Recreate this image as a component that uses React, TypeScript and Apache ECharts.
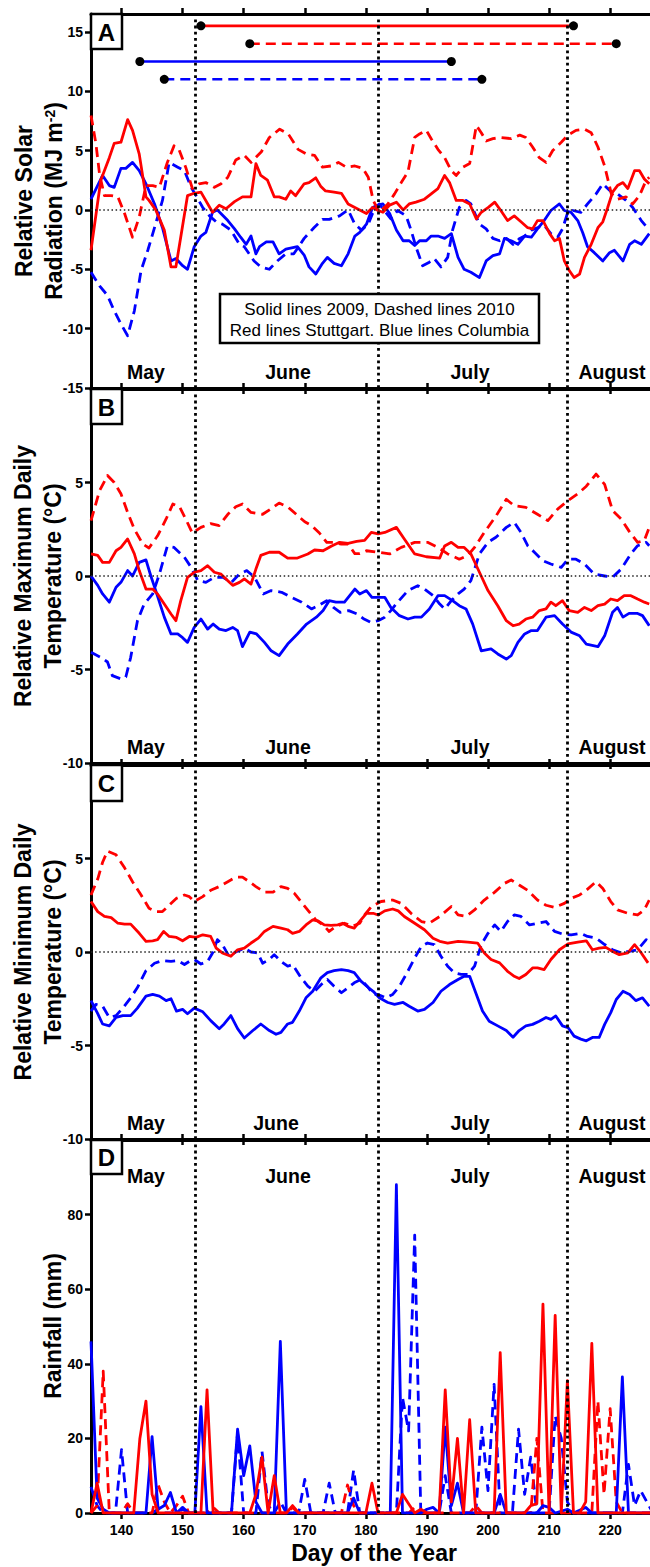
import React, { useEffect, useRef } from "react";
import * as echarts from "echarts";

// ---------- data ----------
const xTicks = [140, 150, 160, 170, 180, 190, 200, 210, 220];
const monthStarts = [152, 182, 213];
const months = ["May", "June", "July", "August"];

const solarTicks = [-15, -10, -5, 0, 5, 10, 15];
const tempTicks = [-10, -5, 0, 5];
const rainTicks = [0, 20, 40, 60, 80];

// Growing periods shown at the top of panel A: [day, y]
const periodRed2009 = [[153, 15.5], [214, 15.5]];
const periodRed2010 = [[161, 14], [221, 14]];
const periodBlue2009 = [[143, 12.5], [194, 12.5]];
const periodBlue2010 = [[147, 11], [199, 11]];

// Panel A: relative solar radiation
const solarRed2009 = [[135,-3.4],[136.6,2.5],[138,4.4],[138.8,5.6],[139.9,5.7],[141,7.6],[141.8,6.7],[142.9,4.7],[144,1.1],[144.5,0.8],[145.6,0],[147,-1.7],[148.1,-4.8],[148.9,-4.8],[150.8,1.2],[151.9,1.4],[153,1.5],[154.9,-0.2],[156,0.4],[157.1,0.1],[158.5,0.7],[159.8,1.1],[161.2,1.1],[162,3.9],[162.8,2.9],[163.9,2.5],[165,1.1],[165.8,1.1],[166.9,0.9],[167.7,1.6],[168.5,1.2],[169.9,2.2],[170.7,2.3],[171.8,2.7],[172.6,2.0],[173.4,1.6],[174.8,1.5],[176,1.4],[177.1,0.5],[178.2,0.2],[180.1,-0.3],[181.1,0.2],[182,-0.05],[182.8,-0.2],[183.9,0.4],[185,0.65],[186.1,0],[187.1,0.5],[188.2,0.65],[189.6,0.9],[190.7,1.35],[191.8,1.8],[192.9,2.9],[193.7,2.3],[194.8,0.8],[195.9,0.8],[197,0.5],[198.1,-0.75],[198.9,-0.2],[200,0.2],[201.1,0.65],[202.1,-0.05],[203.2,-0.9],[204.3,-0.5],[205.4,-1.0],[206.5,-1.5],[207.3,-1.6],[208.1,-0.9],[209,-0.9],[210.1,-2.0],[210.9,-2.6],[211.7,-2.4],[212.5,-4.3],[213.3,-5.1],[214.1,-5.7],[215,-5.4],[215.8,-4.0],[216.9,-2.9],[218,-1.5],[218.8,-1.0],[219.6,0.2],[220.4,1.5],[221.2,2.05],[222.1,2.3],[222.9,1.8],[224,3.3],[224.8,3.3],[225.6,2.6],[226.4,2.2]];
const solarBlue2009 = [[135,0.9],[136.9,2.9],[138,2.05],[138.8,1.9],[139.9,3.5],[140.7,3.5],[141.8,4.0],[142.9,3.3],[144,2.2],[145.4,0.5],[146.7,-1.5],[148.1,-4.3],[148.9,-4.1],[150,-4.7],[150.8,-5.0],[151.9,-3.1],[153,-2.2],[153.8,-1.9],[154.9,-0.2],[155.7,0],[157.4,-0.9],[158.5,-1.6],[159.5,-2.3],[160.4,-2.9],[161.2,-2.2],[162,-3.7],[162.6,-3.1],[163.7,-2.7],[164.8,-2.7],[165.8,-3.7],[166.9,-3.3],[168.8,-3.1],[169.9,-3.8],[170.7,-4.8],[171.8,-5.4],[172.9,-4.5],[173.7,-4.0],[174.8,-4.5],[176,-4.7],[177.1,-3.7],[178.2,-2.2],[179,-1.9],[180.1,-1.2],[181.1,0.2],[182,0.4],[182.8,0.5],[183.9,-0.3],[185,-1.7],[186.1,-2.6],[187.1,-2.6],[188,-3.0],[188.8,-2.6],[189.9,-2.6],[190.7,-2.2],[191.8,-2.2],[192.9,-2.4],[194,-2.0],[195.1,-4.0],[196.1,-5.0],[197.2,-5.25],[198.6,-5.7],[199.7,-4.3],[200.8,-3.85],[201.9,-3.7],[202.7,-2.4],[203.8,-2.6],[204.9,-2.9],[206,-2.2],[207.1,-2.3],[208.1,-1.6],[209.2,-0.9],[210.3,-0.05],[211.7,0.5],[212.5,-0.05],[213.6,-0.2],[214.7,-0.9],[215.5,-1.9],[216.3,-3.1],[217.4,-3.6],[218.8,-4.3],[219.9,-3.6],[220.7,-3.4],[222.1,-4.3],[223.2,-2.9],[224,-2.6],[225.1,-2.9],[226.4,-2.0]];
const solarBlue2010 = [[135,-5.25],[136.4,-6.4],[137.7,-7.2],[138.8,-8.5],[139.9,-9.6],[141,-10.6],[142.1,-8.5],[143.2,-5.1],[144.3,-3.4],[145.4,-1.5],[146.7,0.8],[147.8,4.0],[149.2,3.6],[150.3,3.3],[151.4,1.9],[152.2,1.2],[153.3,0.2],[154.4,-0.5],[155.5,-1.0],[156.5,-1.2],[157.9,-1.7],[159.3,-2.9],[160.1,-3.1],[161.7,-4.3],[162.8,-4.8],[164.2,-5.0],[165.5,-4.3],[166.9,-3.7],[168.2,-3.7],[169.9,-2.4],[171.5,-1.5],[172.9,-0.8],[174,-0.8],[175.7,-0.5],[177.1,0],[178.2,-1.2],[179.3,-1.7],[180.4,-1.2],[181.1,-0.3],[182.2,0.5],[183,-0.05],[184.1,-0.75],[185.2,-0.05],[186.6,-0.5],[187.4,-1.7],[188.2,-3.1],[189.3,-4.7],[190.4,-4.4],[191.2,-4.1],[192.3,-4.8],[193.4,-4.0],[194.2,-1.7],[195.3,0.2],[196.4,0.8],[197.2,0.5],[198.6,-1.2],[199.7,-1.6],[200.8,-2.4],[201.9,-2.6],[203,-2.4],[204.1,-2.9],[205.2,-2.4],[206,-2.2],[207.1,-1.7],[208.1,-1.5],[209.2,-1.3],[210.3,-2.0],[211.4,-2.3],[212.2,-1.6],[213,-0.3],[213.9,-0.05],[215.2,-0.2],[216.3,0.5],[217.7,1.35],[218.8,2.2],[220.2,1.5],[221.2,1.35],[222.6,0.8],[223.7,0.2],[225.1,-0.9],[226.4,-1.7]];
const solarRed2010 = [[135,7.95],[135.8,5.6],[136.4,3.0],[137.2,1.2],[138.3,1.2],[139.4,1.1],[140.5,-0.3],[141.8,-2.3],[142.9,-0.6],[144,2.05],[145.1,2.05],[146.2,1.9],[147.5,4.0],[148.6,5.4],[149.4,5.1],[150.5,3.6],[151.6,1.8],[152.7,2.2],[153.8,2.3],[155.2,1.9],[156.3,2.2],[157.4,2.75],[158.7,4.2],[160.1,4.6],[161.2,4.0],[162.9,4.9],[164.2,6.1],[165.9,6.8],[167.3,6.4],[168.9,5.1],[170.3,4.7],[171.6,4.6],[172.9,3.6],[174.3,3.7],[175.5,4.0],[176.8,3.6],[178.2,3.7],[179.5,3.5],[180.4,2.75],[181.2,0.8],[182.2,-0.2],[183.6,0.5],[184.7,1.35],[185.8,2.3],[186.9,3.2],[188,6.1],[188.8,6.4],[189.9,6.7],[190.7,6.0],[191.8,5.1],[192.9,4.4],[194,3.3],[194.8,2.9],[195.9,3.6],[197,3.9],[198.1,7.1],[198.9,6.5],[199.7,5.8],[200.8,6.0],[202.1,6.1],[203.8,6.0],[205.2,6.3],[206.2,6.1],[207.3,5.3],[208.4,4.4],[209.5,4.0],[210.6,5.0],[212,5.7],[213.1,6.3],[214.4,6.7],[215.8,6.8],[216.9,6.5],[218,5.3],[219.1,3.7],[220.2,1.35],[221.2,0.9],[222.6,1.1],[223.7,0.5],[224.8,1.2],[225.9,2.5],[226.4,2.75]];

// Panel B: relative maximum daily temperature
const tmaxRed2010 = [[135,2.96],[136.4,4.56],[137.7,5.37],[138.8,5.0],[139.9,4.4],[141,3.4],[142.1,2.5],[143.5,1.7],[144.5,1.5],[145.9,2.15],[147.3,3.05],[148.4,3.85],[149.5,3.7],[150.5,3.05],[151.6,2.3],[153,2.6],[154.6,2.8],[156,2.7],[157.4,3.3],[158.7,3.7],[159.8,3.85],[161.2,3.4],[163.1,3.3],[164.5,3.6],[165.8,3.9],[167.2,3.7],[168.6,3.3],[170,2.9],[171.1,2.7],[172.4,2.3],[173.6,1.8],[174.8,1.8],[176,1.7],[177.1,1.7],[178.2,1.2],[179,1.2],[180.1,1.35],[182,1.27],[183.9,1.18],[185.8,1.53],[188,1.8],[190.1,1.8],[191.8,1.53],[193.4,1.18],[195.3,0.9],[196.7,1.1],[197.8,1.53],[199.4,2.33],[201.3,3.2],[203,4.1],[204.3,3.76],[206.2,3.67],[208.1,3.3],[209.8,2.96],[211.4,3.58],[213.1,4.03],[214.7,4.4],[216.1,4.8],[217.7,5.45],[219.1,4.9],[220.4,3.5],[221.8,3.05],[223.1,2.4],[224.5,1.8],[225.6,1.9],[226.4,2.6]];
const tmaxRed2009 = [[135,1.18],[136.1,1.1],[136.9,0.73],[138,0.73],[139.1,1.35],[139.9,1.53],[141,1.98],[142.1,1.18],[142.9,0.29],[144,-0.7],[145.1,-0.7],[145.9,-0.96],[147,-1.5],[148.1,-2.03],[148.9,-2.39],[149.7,-1.32],[150.8,-0.07],[151.9,0.2],[153,0.29],[154.1,0.55],[155.2,0.2],[156.3,0.1],[157.4,-0.25],[158.2,-0.5],[159.3,-0.34],[160.1,-0.16],[161.2,-0.43],[162,0.37],[162.8,1.1],[164.2,1.27],[165.8,1.27],[167.2,0.96],[168.8,0.96],[170.5,1.18],[171.6,1.39],[173,1.35],[174.4,1.6],[175.7,1.8],[177.1,1.75],[178.5,1.85],[179.8,1.9],[180.9,2.33],[182,2.25],[183.1,2.33],[185,2.6],[186.3,1.98],[188,1.18],[189.9,1.03],[192.1,0.96],[192.9,1.6],[194,1.8],[195.1,1.53],[196.1,1.53],[197.2,1.18],[198.6,0.2],[200,-0.78],[201.6,-1.59],[203,-2.39],[204.1,-2.66],[205.1,-2.57],[206.2,-2.3],[207.3,-2.2],[208.4,-1.85],[209.5,-1.76],[210.3,-1.4],[211.1,-1.59],[212.2,-1.32],[213.3,-1.85],[214.7,-1.94],[215.8,-1.68],[216.9,-1.85],[218,-1.59],[219.1,-1.5],[220.1,-1.23],[221.2,-1.32],[222.3,-1.05],[223.4,-1.05],[224.5,-1.23],[225.6,-1.4],[226.4,-1.5]];
const tmaxBlue2009 = [[135,0],[136.1,-0.5],[136.9,-0.96],[138,-1.4],[139.1,-0.6],[139.9,-0.34],[141,0.29],[141.8,0],[142.9,0.73],[144,0.86],[144.8,0],[145.6,-0.78],[147,-2.2],[148.1,-3.1],[149.2,-3.1],[150,-3.3],[150.8,-3.55],[151.9,-2.75],[153,-2.3],[154.1,-2.84],[155,-2.57],[156,-2.84],[157.1,-2.92],[158.2,-2.75],[159,-2.92],[159.8,-3.78],[161,-3.0],[162.1,-3.1],[163.4,-3.55],[164.5,-4.0],[165.8,-4.26],[167.2,-3.64],[168.8,-3.1],[170.3,-2.57],[171.9,-2.2],[173,-1.85],[174,-1.32],[175.1,-1.4],[176.5,-1.4],[178.2,-0.7],[179,-0.96],[180.1,-0.78],[181,-1.14],[182,-1.14],[183.1,-1.14],[184.1,-1.68],[185.5,-2.12],[186.9,-2.3],[188,-2.2],[189.1,-2.2],[190.4,-1.76],[191.8,-1.05],[192.9,-1.05],[194.2,-1.32],[195.3,-1.59],[196.4,-1.76],[197.5,-2.57],[198.9,-4.0],[200.5,-3.9],[201.6,-4.17],[203,-4.44],[203.8,-4.26],[204.9,-3.55],[206,-3.1],[207.1,-2.92],[208.1,-2.92],[209.5,-2.2],[210.9,-2.12],[212.2,-2.57],[213.6,-3.0],[215,-3.2],[216.1,-3.64],[218,-3.78],[219.1,-3.2],[220.4,-1.94],[221.2,-1.68],[222.1,-2.2],[223.1,-2.0],[224.5,-2.0],[225.3,-2.12],[226.4,-2.66]];
const tmaxBlue2010 = [[135,-4.08],[136.6,-4.35],[137.7,-4.6],[138.5,-5.33],[139.9,-5.5],[140.7,-5.4],[141.5,-4.35],[142.6,-2.4],[143.7,-1.5],[145.1,-0.96],[146.2,0.1],[147.5,1.6],[148.6,1.53],[150.3,1.0],[151.4,0.46],[152.5,-0.25],[153.8,-0.34],[155.2,-0.07],[156.6,-0.07],[158,-0.34],[159.3,0.1],[160.5,0.29],[161.8,-0.07],[163.2,-0.96],[164.5,-0.78],[166.2,-0.87],[167.8,-1.14],[169.5,-1.4],[171.1,-1.76],[172.2,-1.59],[173.6,-1.32],[174.7,-1.68],[175.8,-1.94],[177.2,-1.85],[178.6,-2.03],[179.7,-2.3],[180.8,-2.48],[182,-2.39],[183.1,-2.2],[184.1,-1.85],[185.2,-1.4],[186.9,-0.78],[188.5,-0.52],[189.6,-0.7],[191,-1.05],[192.1,-1.5],[192.9,-1.76],[194,-1.32],[195.1,-0.96],[196.1,-0.7],[197.2,-0.25],[198.6,1.18],[200,1.8],[201.3,2.07],[203,2.6],[204.3,2.87],[205.4,2.33],[206.5,1.62],[207.6,1.27],[209,0.82],[210.3,0.64],[212,0.46],[213.1,0.9],[214.4,0.9],[215.8,0.64],[217.4,0.1],[219.1,0],[220.4,-0.07],[221.8,0.37],[223.4,1.18],[224.5,1.62],[225.9,1.8],[226.4,1.62]];

// Panel C: relative minimum daily temperature
const tminRed2010 = [[135,3.05],[136.1,3.9],[136.9,4.8],[137.7,5.4],[139.1,5.2],[140.5,4.5],[141.8,3.76],[143.2,3.05],[144.5,2.34],[145.6,2.16],[146.7,2.16],[147.8,2.5],[149,2.87],[150.3,3.05],[151.1,2.96],[151.9,2.7],[153.3,2.96],[154.6,3.3],[156,3.5],[157.4,3.76],[158.7,4.0],[159.8,4.0],[160.9,3.76],[162,3.5],[163.4,3.2],[164.8,3.2],[166.1,3.5],[167.2,3.4],[168.3,3.14],[169.6,2.6],[170.7,2.16],[171.8,1.72],[173,1.45],[174,1.1],[175.1,1.37],[176.5,1.54],[177.8,1.37],[179,1.54],[179.8,1.98],[180.9,2.43],[182.5,2.7],[184.4,2.78],[185.8,2.6],[187.4,2.07],[189.1,1.63],[190.4,1.54],[192.1,1.9],[194,2.43],[195.1,1.98],[196.4,1.9],[197.8,2.25],[199.4,2.78],[201.1,3.2],[202.7,3.67],[203.8,3.85],[205.1,3.58],[206.5,3.3],[208.1,2.78],[209.5,2.5],[210.9,2.38],[212.5,2.6],[213.6,2.87],[215,3.05],[216.1,3.3],[217.7,3.76],[218.8,3.4],[220.1,2.7],[221.2,2.25],[222.9,2.07],[224.5,1.98],[225.6,2.25],[226.4,2.78]];
const tminRed2009 = [[135,2.7],[136.1,2.16],[137.2,1.9],[138.3,1.84],[139.4,1.54],[140.5,1.49],[141.5,1.49],[142.9,1.0],[144,0.57],[145.1,0.6],[145.9,0.66],[146.9,1.1],[147.8,0.83],[149,0.78],[150,0.6],[151.1,0.83],[152.2,0.78],[153.3,0.92],[154.6,0.83],[155.5,0.21],[156.5,-0.05],[157.9,-0.23],[159,0.12],[160.1,0.21],[161.2,0.48],[162.4,0.74],[163.4,1.1],[164.8,1.37],[166.1,1.28],[167.2,1.19],[168,1.0],[169.1,1.1],[170.2,1.45],[171.3,1.72],[172.1,1.67],[173.2,1.45],[174.3,1.42],[175.4,1.45],[176.2,1.54],[177.1,1.37],[178.1,1.28],[179.2,1.72],[180.1,2.07],[181.2,2.07],[182,1.98],[183.1,2.2],[184.4,2.3],[185.3,2.2],[186.3,1.9],[188,1.54],[189.6,1.19],[191,0.74],[192.1,0.57],[193.4,0.48],[195.1,0.57],[196.7,0.53],[198.3,0.48],[199.4,-0.05],[200.5,-0.4],[201.9,-0.58],[203.2,-1.03],[204.3,-1.3],[205.1,-1.42],[206.2,-1.2],[207.3,-0.85],[208.1,-0.85],[209.2,-0.94],[210.3,-0.4],[211.7,0.12],[213.1,0.43],[214.7,0.53],[216.1,0.6],[217.1,0.12],[218.2,0.21],[219.3,0.25],[220.4,0.03],[221.5,-0.14],[222.9,-0.05],[224,0.39],[225.1,-0.05],[226.2,-0.58]];
const tminBlue2009 = [[135,-2.6],[136.1,-3.3],[136.9,-3.85],[138,-3.95],[139.1,-3.5],[140.2,-3.4],[141.5,-3.4],[142.6,-3.0],[144,-2.36],[145.1,-2.27],[146.2,-2.36],[147.3,-2.6],[148.1,-2.5],[149,-3.16],[150,-3.07],[150.8,-3.3],[151.9,-3.0],[153.3,-3.2],[154.6,-3.67],[156,-4.1],[156.8,-3.85],[157.9,-3.4],[159,-4.1],[160.1,-4.6],[161.5,-4.2],[162.8,-3.85],[164.2,-4.2],[165.3,-4.4],[166.1,-4.3],[167.2,-3.85],[168,-3.76],[169.1,-3.16],[170.2,-2.45],[171.3,-2.1],[172.6,-1.4],[173.7,-1.1],[174.8,-1.0],[176,-0.94],[177.1,-1.0],[178.1,-1.1],[179.2,-1.56],[180.4,-1.9],[181.2,-2.1],[182.2,-2.45],[183.6,-2.7],[184.7,-2.8],[186.1,-2.7],[187.1,-2.9],[188.5,-3.16],[189.6,-3.07],[191,-2.7],[192.3,-2.1],[193.7,-1.74],[195.1,-1.47],[196.1,-1.3],[197,-1.3],[198.1,-2.27],[199.1,-3.16],[200.2,-3.7],[201.6,-3.95],[203,-4.2],[204.1,-4.56],[205.1,-4.2],[206.2,-3.95],[207.3,-3.87],[208.4,-3.7],[209.5,-3.5],[210.3,-3.6],[211.1,-3.42],[212.2,-3.95],[213.1,-4.04],[214.1,-4.5],[215.2,-4.66],[216.1,-4.75],[217.1,-4.57],[218.2,-4.57],[219.1,-3.87],[220.1,-3.24],[221,-2.54],[222.1,-2.1],[223.2,-2.27],[224.2,-2.6],[225.3,-2.45],[226.4,-2.9]];
const tminBlue2010 = [[135,-3.16],[135.8,-2.8],[136.9,-2.9],[138,-3.5],[139.1,-3.4],[140.2,-3.0],[141.5,-2.45],[142.6,-1.9],[144,-1.0],[145.4,-0.6],[146.7,-0.46],[148.1,-0.5],[149.2,-0.46],[150.3,-0.67],[151.1,-0.5],[151.9,-0.4],[153,-0.64],[154.1,-0.5],[154.9,-0.05],[155.7,0.66],[156.5,0.4],[157.6,-0.23],[158.7,0],[160.1,0.2],[161.2,0],[162.3,-0.05],[163.1,-0.6],[164.2,-0.4],[165,-0.14],[166.1,-0.5],[167.2,-0.76],[168,-0.67],[169.4,-1.38],[170.5,-1.83],[171.6,-2.1],[172.7,-1.74],[173.7,-1.47],[174.8,-1.83],[176,-2.18],[177.1,-1.9],[178.1,-1.65],[179.2,-1.47],[180.4,-1.9],[181.2,-2.27],[182,-2.27],[183.3,-2.45],[184.4,-2.27],[185.5,-1.83],[186.6,-1.2],[188,-0.32],[189.1,0.3],[190.1,0.48],[191.2,0.4],[192.3,-0.23],[193.4,-0.76],[194.5,-1.12],[195.6,-1.2],[196.7,-1.2],[197.8,-0.76],[198.9,0.39],[200,1.0],[201.1,1.45],[202.1,1.1],[203.2,1.63],[204.3,1.98],[205.4,1.9],[206.8,1.45],[208.1,1.54],[209.5,1.63],[210.9,1.1],[212.2,0.96],[213.6,0.92],[215.2,1.0],[216.3,0.83],[217.7,0.74],[219.1,0.4],[220.4,0.12],[221.8,-0.05],[223.1,0.03],[224.5,0.12],[225.9,0.66],[226.4,0.57]];

// Panel D: daily rainfall (mm)
const rainBlue2009 = [[135,46],[136,4],[137,1],[138,0],[144,0],[145,20.5],[146,1],[147,2],[148,5.5],[149,0],[150,1.5],[151,0],[152,0],[153,28.5],[154,0],[158,0],[159,22.5],[160,10],[161,18],[162,3],[163,0],[165,0],[166,46],[167,0],[177,0],[178,4],[179,0],[184,0],[185,88],[186,0],[189,0],[190,1],[191,1.5],[192,0],[193,23],[194,2],[195,8],[196,0],[201,0],[202,5],[203,0],[208,0],[209,2],[210,1.5],[211,0],[213,1],[214,0],[216,1.5],[217,0],[221,0],[222,36.5],[223,0],[227,0]];
const rainRed2009 = [[135,0],[136,8],[137,0],[142,0],[143,20],[144,30],[145,5],[146,0],[153,0],[154,33],[155,0],[161,0],[162,5],[163,15],[164,0],[165,10],[166,0],[167,0],[168,2],[169,0],[180,0],[181,8],[182,0],[185,0],[186,5],[187,2.5],[188,0],[189,1],[190,0],[192,0],[193,33],[194,3],[195,20],[196,0],[197,25],[198,0],[201,0],[202,43],[203,0],[206,0],[207,2],[208,2.5],[209,56],[210,0],[211,53],[212,0],[213,35.5],[214,0],[215,0],[216,3],[217,45.5],[218,0],[227,0]];
const rainRed2010 = [[135,0],[136,2],[137,38],[138,0],[140,0],[141,2.5],[142,0],[145,0],[146,7.5],[147,3],[148,0],[149,2],[150,4.5],[151,0],[154,0],[155,1.5],[156,0],[167,0],[168,1.5],[169,0],[176,0],[177,7.5],[178,2],[179,0],[187,0],[188,1.5],[189,0],[197,0],[198,2],[199,0],[207,0],[208,20],[209,0],[217,0],[218,30],[219,5],[220,28],[221,3],[222,0],[227,0]];
const rainBlue2010 = [[135,7],[136,2],[137,0],[139,0],[140,17],[141,0],[145,0],[146,1],[147,0],[149,0],[150,1],[151,0],[158,0],[159,21.5],[160,0],[162,0],[163,16.5],[164,2],[165,0],[166,3],[167,0],[169,0],[170,9],[171,0],[173,0],[174,8],[175,0],[177,0],[178,11.5],[179,0],[185,0],[186,31],[187,22],[188,74.5],[189,0],[192,0],[193,10],[194,0],[198,0],[199,23],[200,6],[201,34.5],[202,0],[204,0],[205,22.5],[206,5],[207,15],[208,0],[210,0],[211,26],[212,20],[213,3],[214,0],[222,0],[223,13],[224,2],[225,6],[226,3],[227,0]];

// ---------- layout / style ----------
const FONT = "'Liberation Sans', Arial, Helvetica, sans-serif";
const RED = "#ff0000";
const BLUE = "#0000ff";
const DASH = [10, 6];
const LW = 2.8;

const GRID_LEFT = 91;
const GRID_WIDTH = 568;
const panels = [
  { top: 14, height: 374, min: -15, max: 16.5, ticks: solarTicks, letter: "A" },
  { top: 389, height: 374, min: -10, max: 10, ticks: tempTicks, letter: "B" },
  { top: 765, height: 374, min: -10, max: 10, ticks: tempTicks, letter: "C" },
  { top: 1140, height: 373, min: 0, max: 100, ticks: rainTicks, letter: "D" },
];

function line(data: number[][], color: string, dashed: boolean, p: number, extra: any = {}) {
  return {
    type: "line",
    xAxisIndex: p * 2,
    yAxisIndex: p,
    data,
    showSymbol: false,
    symbol: "none",
    silent: true,
    lineStyle: { color, width: LW, type: dashed ? DASH : "solid", join: "round" },
    z: 3,
    ...extra,
  };
}

function markers(p: number) {
  const v = { type: [2.8, 3.4], width: 2.8, color: "#000" };
  const h = { type: [1.5, 2.6], width: 1.5, color: "#222" };
  const d: any[] = monthStarts.map((m) => ({ xAxis: m, lineStyle: v }));
  if (p < 3) d.push({ yAxis: 0, lineStyle: h });
  return {
    markLine: {
      silent: true,
      symbol: ["none", "none"],
      label: { show: false },
      animation: false,
      data: d,
    },
  };
}

function periodSeries(data: number[][], color: string, dashed: boolean) {
  return {
    type: "line",
    xAxisIndex: 0,
    yAxisIndex: 0,
    data,
    showSymbol: true,
    symbol: "circle",
    symbolSize: 9,
    silent: true,
    itemStyle: { color: "#000" },
    lineStyle: { color, width: 2.6, type: dashed ? DASH : "solid" },
    z: 4,
  };
}

function rotText(x: number, y: number, text: string, rich?: any) {
  return {
    type: "text",
    x,
    y,
    rotation: Math.PI / 2,
    z: 100,
    style: {
      text,
      fontFamily: FONT,
      fontWeight: "bold",
      fontSize: 23,
      fill: "#000",
      align: "center",
      verticalAlign: "middle",
      rich,
    },
  };
}

function plainText(x: number, y: number, text: string, size: number, bold = true) {
  return {
    type: "text",
    x,
    y,
    z: 100,
    style: {
      text,
      fontFamily: FONT,
      fontWeight: bold ? "bold" : "normal",
      fontSize: size,
      fill: "#000",
      align: "center",
      verticalAlign: "middle",
    },
  };
}

export default function App() {
  const ref = useRef<HTMLDivElement>(null);

  useEffect(() => {
    if (!ref.current) return;
    const chart = echarts.init(ref.current, undefined, { renderer: "svg" });

    const grid = panels.map((p) => ({
      left: GRID_LEFT,
      top: p.top,
      width: GRID_WIDTH,
      height: p.height,
      containLabel: false,
    }));

    const xAxis: any[] = [];
    panels.forEach((p, i) => {
      const base = {
        type: "value",
        gridIndex: i,
        min: 135,
        max: 228,
        splitLine: { show: false },
        axisLine: { show: true, onZero: false, lineStyle: { color: "#000", width: 3 } },
        axisTick: {
          show: true,
          inside: false,
          length: 6,
          customValues: xTicks,
          lineStyle: { color: "#000", width: 2.5 },
        },
      };
      xAxis.push({
        ...base,
        position: "bottom",
        axisLabel:
          i === 3
            ? {
                show: true,
                customValues: xTicks,
                fontFamily: FONT,
                fontWeight: "bold",
                fontSize: 14,
                color: "#000",
                margin: 10,
              }
            : { show: false },
      });
      xAxis.push({ ...base, position: "top", axisLabel: { show: false } });
    });

    const yAxis = panels.map((p, i) => ({
      type: "value",
      gridIndex: i,
      min: p.min,
      max: p.max,
      splitLine: { show: false },
      axisLine: { show: true, onZero: false, lineStyle: { color: "#000", width: 3 } },
      axisTick: {
        show: true,
        inside: false,
        length: 6,
        customValues: p.ticks,
        lineStyle: { color: "#000", width: 2.5 },
      },
      axisLabel: {
        show: true,
        customValues: p.ticks,
        fontFamily: FONT,
        fontWeight: "bold",
        fontSize: 14,
        color: "#000",
        margin: 8,
      },
    }));

    const series: any[] = [
      line(solarBlue2010, BLUE, true, 0, markers(0)),
      line(solarBlue2009, BLUE, false, 0),
      line(solarRed2010, RED, true, 0),
      line(solarRed2009, RED, false, 0),
      periodSeries(periodRed2009, RED, false),
      periodSeries(periodRed2010, RED, true),
      periodSeries(periodBlue2009, BLUE, false),
      periodSeries(periodBlue2010, BLUE, true),

      line(tmaxBlue2010, BLUE, true, 1, markers(1)),
      line(tmaxBlue2009, BLUE, false, 1),
      line(tmaxRed2010, RED, true, 1),
      line(tmaxRed2009, RED, false, 1),

      line(tminBlue2010, BLUE, true, 2, markers(2)),
      line(tminBlue2009, BLUE, false, 2),
      line(tminRed2010, RED, true, 2),
      line(tminRed2009, RED, false, 2),

      line(rainBlue2010, BLUE, true, 3, markers(3)),
      line(rainRed2010, RED, true, 3),
      line(rainBlue2009, BLUE, false, 3),
      line(rainRed2009, RED, false, 3),
    ];

    const graphic: any[] = [];
    const letterBoxes = [
      { y: 14, h: 35 },
      { y: 389, h: 35 },
      { y: 765, h: 36 },
      { y: 1140, h: 34 },
    ];
    panels.forEach((p, i) => {
      const b = letterBoxes[i];
      graphic.push({
        type: "rect",
        z: 100,
        shape: { x: 91, y: b.y, width: 31, height: b.h },
        style: { fill: "#fff", stroke: "#000", lineWidth: 2.5 },
      });
      graphic.push(plainText(106.5, b.y + b.h / 2 + 0.5, p.letter, 24));
    });

    const monthX = [146, 288, 470, 612];
    const monthY = [372, 747, 1123, 1176];
    monthY.forEach((y, pi) => {
      months.forEach((m, mi) => {
        let x = monthX[mi];
        if (pi === 2 && mi === 1) x = 276;
        graphic.push(plainText(x, y, m, 19.5));
      });
    });

    graphic.push({
      type: "rect",
      z: 100,
      shape: { x: 220, y: 294, width: 319, height: 49 },
      style: { fill: "#fff", stroke: "#000", lineWidth: 2.5 },
    });
    graphic.push(plainText(379.5, 309.5, "Solid lines 2009, Dashed lines 2010", 17, false));
    graphic.push(plainText(379.5, 330, "Red lines Stuttgart. Blue lines Columbia", 17, false));

    graphic.push(rotText(24, 201, "Relative Solar"));
    graphic.push(
      rotText(54, 201, "{b|Radiation (MJ m}{s|-2}{b|)}", {
        b: { fontFamily: FONT, fontWeight: "bold", fontSize: 23, fill: "#000" },
        s: { fontFamily: FONT, fontWeight: "bold", fontSize: 14, fill: "#000", verticalAlign: "top" },
      })
    );
    graphic.push(rotText(23, 576, "Relative Maximum Daily"));
    graphic.push(rotText(53, 576, "Temperature (°C)"));
    graphic.push(rotText(23, 952, "Relative Minimum Daily"));
    graphic.push(rotText(53, 952, "Temperature (°C)"));
    graphic.push(rotText(53, 1326, "Rainfall (mm)"));

    graphic.push(plainText(374, 1553, "Day of the Year", 23));

    chart.setOption({
      animation: false,
      backgroundColor: "#fff",
      grid,
      xAxis,
      yAxis,
      series,
      graphic,
    });

    return () => chart.dispose();
  }, []);

  return (
    <div
      style={{
        position: "absolute",
        left: 0,
        top: 0,
        width: 650,
        height: 1567,
        overflow: "hidden",
        background: "#fff",
      }}
    >
      <div ref={ref} style={{ width: 700, height: 1567 }} />
    </div>
  );
}
